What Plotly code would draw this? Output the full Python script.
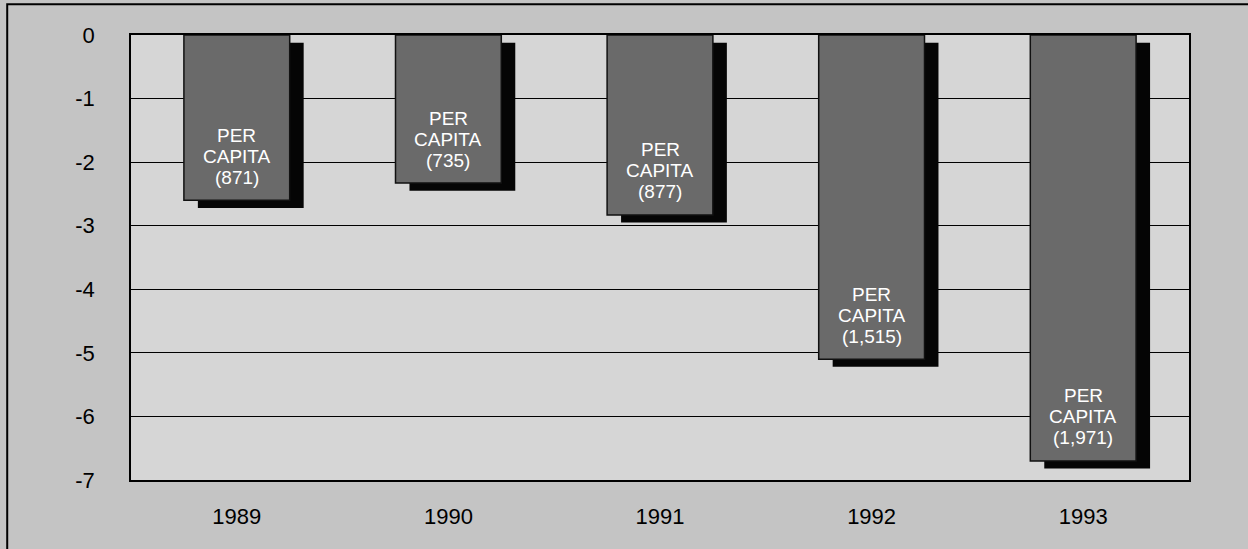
"""Per-capita bar chart with drop shadows, recreated in Plotly."""

import plotly.graph_objects as go

years = ["1989", "1990", "1991", "1992", "1993"]
values = [-2.6, -2.33, -2.83, -5.1, -6.7]
per_capita = ["(871)", "(735)", "(877)", "(1,515)", "(1,971)"]
y_ticks = [0, -1, -2, -3, -4, -5, -6, -7]
y_ticktext = ["0", "-1", "-2", "-3", "-4", "-5", "-6", "-7"]

BAR_W = 0.5
SHADOW_DX = 0.066   # shadow shift in category units
SHADOW_DY = 0.12    # shadow shift in value units
FONT = "Liberation Sans, Arial, sans-serif"
PAPER = "#c4c4c4"

fig = go.Figure()

# black drop shadow behind each bar
fig.add_trace(go.Bar(
    x=years,
    y=values,
    base=-SHADOW_DY,
    width=BAR_W,
    offset=-BAR_W / 2 + SHADOW_DX,
    marker=dict(color="#050505", line=dict(width=0)),
    hoverinfo="skip",
    showlegend=False,
))

fig.add_trace(go.Bar(
    x=years,
    y=values,
    width=BAR_W,
    offset=-BAR_W / 2,
    marker=dict(color="#6a6a6a", line=dict(color="#111111", width=1.5)),
    showlegend=False,
))

# white three-line label near the bottom of each bar
# (category axis: numeric-looking strings would be read as indices, so use the index)
annotations = []
for i, (v, pc) in enumerate(zip(values, per_capita)):
    for line, shift in (("PER", 65), ("CAPITA", 44), (pc, 23)):
        annotations.append(dict(
            x=i, y=v, text=line, showarrow=False,
            yanchor="middle", yshift=shift,
            font=dict(family=FONT, size=19, color="white"),
        ))

fig.update_layout(
    width=1248,
    height=549,
    barmode="overlay",
    paper_bgcolor=PAPER,
    plot_bgcolor="#d6d6d6",
    margin=dict(l=131, r=59, t=35, b=69),
    font=dict(family=FONT, size=22, color="black"),
    annotations=annotations,
    xaxis=dict(
        type="category",
        range=[-0.5, len(years) - 0.5],
        showgrid=False,
        showline=True,
        linecolor="black",
        linewidth=1.5,
        mirror=True,
        ticks="",
        ticklabelstandoff=16,
        tickfont=dict(size=22),
    ),
    yaxis=dict(
        range=[-7, 0],
        tickvals=y_ticks,
        ticktext=y_ticktext,
        showgrid=True,
        gridcolor="black",
        gridwidth=1,
        zeroline=False,
        showline=True,
        linecolor="black",
        linewidth=1.5,
        mirror=True,
        ticks="",
        ticklabelstandoff=30,
        tickfont=dict(size=22),
    ),
    shapes=[dict(
        type="rect", xref="paper", yref="paper",
        x0=-0.117, x1=1.2, y0=-0.3, y1=1.069,
        line=dict(color="black", width=2),
        fillcolor="rgba(0,0,0,0)",
        layer="below",
    )],
)

# drop the page's default body margin so the figure fills the window
fig.write_html(
    "out.html",
    config={"displayModeBar": False},
    post_script=(
        "document.body.style.margin='0';"
        f"document.body.style.background='{PAPER}';"
    ),
)
